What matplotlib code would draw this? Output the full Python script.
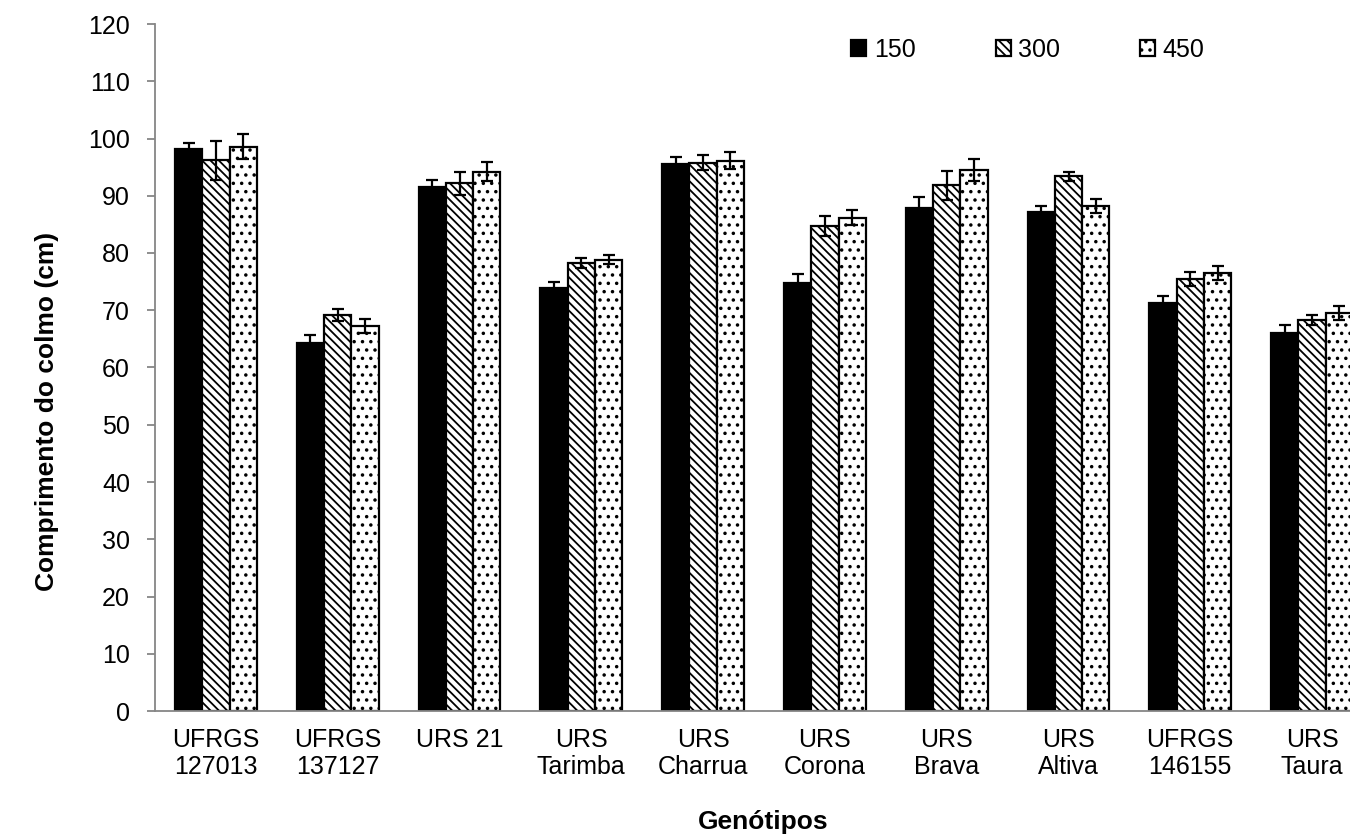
import matplotlib
matplotlib.use("Agg")
import matplotlib.pyplot as plt
import numpy as np

plt.rcParams["font.family"] = ["Liberation Sans", "DejaVu Sans"]
plt.rcParams["hatch.linewidth"] = 1.3

genotipos = ["UFRGS\n127013", "UFRGS\n137127", "URS 21", "URS\nTarimba", "URS\nCharrua",
             "URS\nCorona", "URS\nBrava", "URS\nAltiva", "UFRGS\n146155", "URS\nTaura"]
series = ["150", "300", "450"]

v150 = [98.1, 64.2, 91.5, 73.8, 95.5, 74.8, 87.9, 87.1, 71.3, 66.0]
v300 = [96.2, 69.2, 92.2, 78.3, 95.8, 84.7, 91.8, 93.4, 75.4, 68.3]
v450 = [98.6, 67.2, 94.2, 78.8, 96.1, 86.2, 94.5, 88.2, 76.5, 69.5]

e150 = [1.2, 1.4, 1.3, 1.1, 1.2, 1.5, 1.9, 1.1, 1.2, 1.4]
e300 = [3.4, 1.1, 2.0, 0.9, 1.3, 1.7, 2.5, 0.8, 1.2, 0.9]
e450 = [2.1, 1.2, 1.7, 0.8, 1.5, 1.3, 2.0, 1.2, 1.2, 1.2]

fig = plt.figure(figsize=(13.5, 8.38), dpi=100)
# axes runs past the right edge, as in the cropped original
ax = fig.add_axes([155 / 1350, 127 / 838, 1218 / 1350, 687 / 838])

x = np.arange(len(genotipos))
w = 0.224
styles = [
    dict(color="black", edgecolor="black", hatch=None),
    dict(color="white", edgecolor="black", hatch="\\\\\\\\"),
    dict(color="white", edgecolor="black", hatch=".."),
]
for i, (vals, errs) in enumerate([(v150, e150), (v300, e300), (v450, e450)]):
    pos = x + (i - 1) * w
    ax.bar(pos, vals, w, label=series[i], linewidth=1.6, zorder=2, **styles[i])
    ax.errorbar(pos, vals, yerr=errs, fmt="none", ecolor="black",
                elinewidth=1.6, capsize=4.5, capthick=1.6, zorder=3)

ax.set_xlim(-0.5, len(genotipos) - 0.5)
ax.set_ylim(0, 120)
ax.set_yticks(np.arange(0, 121, 10))
ax.set_xticks(x)
ax.set_xticklabels(genotipos, fontsize=18, linespacing=1.2)
ax.tick_params(axis="x", length=0, pad=12)
ax.tick_params(axis="y", labelsize=18, length=6, width=1.3, color="#868686", pad=12)

for s in ["top", "right"]:
    ax.spines[s].set_visible(False)
for s in ["left", "bottom"]:
    ax.spines[s].set_color("#868686")
    ax.spines[s].set_linewidth(1.3)

fig.text(47 / 1350, 1 - 411 / 838, "Comprimento do colmo (cm)", rotation=90,
         ha="center", va="center", fontsize=19, fontweight="bold")
fig.text(763 / 1350, 1 - 822 / 838, "Genótipos", ha="center", va="center",
         fontsize=19, fontweight="bold")

ax.legend(loc="center", bbox_to_anchor=(1028 / 1350, 1 - 50 / 838),
          bbox_transform=fig.transFigure, ncol=3, frameon=False, fontsize=18,
          handlelength=0.6, handleheight=0.6, handletextpad=0.3, columnspacing=3.2)

fig.savefig("out.png", dpi=100, facecolor="white")
